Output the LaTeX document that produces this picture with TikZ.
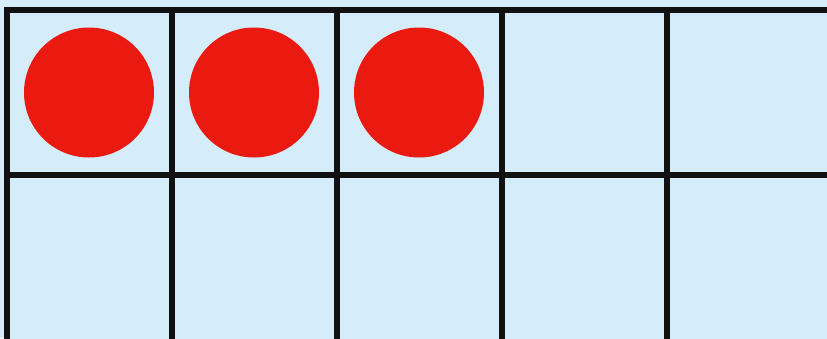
\documentclass[tikz,border=0pt]{standalone}
\definecolor{tfblue}{HTML}{D5EDFB}
\definecolor{tfred}{HTML}{EA1A10}
\definecolor{tfline}{HTML}{111111}
\usepackage{tikz}
\usepackage{xcolor}

\begin{document}
\begin{tikzpicture}[
    x=1pt, y=-1pt,
    cell/.style={draw=tfline, fill=tfblue, line width=6pt,
                 minimum width=165pt, minimum height=165pt, inner sep=0pt},
    lowcell/.style={cell, minimum height=167pt},
    counter/.style={circle, fill=tfred, minimum size=130pt, inner sep=0pt}
  ]
    \fill[tfblue] (0,0) rectangle (827,338);
    \useasboundingbox (0,0) rectangle (827,338);

    % top row
    \node[cell] (a1) at (89,92.5) {};
    \node[cell] (a2) at (254,92.5) {};
    \node[cell] (a3) at (419,92.5) {};
    \node[cell] (a4) at (584,92.5) {};
    \node[cell] (a5) at (749,92.5) {};
    % bottom row
    \node[lowcell] (b1) at (89,258.5) {};
    \node[lowcell] (b2) at (254,258.5) {};
    \node[lowcell] (b3) at (419,258.5) {};
    \node[lowcell] (b4) at (584,258.5) {};
    \node[lowcell] (b5) at (749,258.5) {};

    \node[counter] (c1) at (a1) {};
    \node[counter] (c2) at (a2) {};
    \node[counter] (c3) at (a3) {};
  \end{tikzpicture}
\end{document}
